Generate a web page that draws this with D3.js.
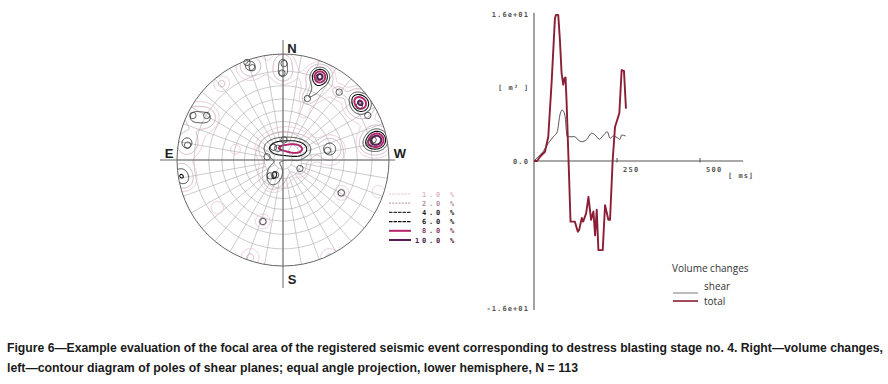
<!DOCTYPE html>
<html><head><meta charset="utf-8">
<script src="https://cdn.jsdelivr.net/npm/d3@7"></script>
<style>body{margin:0;background:#fff}svg{display:block}</style>
</head><body>
<svg id="c" width="888" height="384"></svg>
<script>
// ---------- DATA ----------
// Right panel: volume changes [ms, m3]
const totalTime = [0,9,20,33,43,53,63,66,73,78,83,88,92,95,98,106,110,123,132,136,144,148,157,164,172,179,184,189,194,207,214,224,229,237,244,257,264,271,277];
const totalVol  = [0,0,0.54,1.01,2.64,8.5,15.5,15.9,15.9,13.2,9.6,8.3,9.0,9.1,6.6,-2.1,-6.6,-6.6,-7.7,-7.5,-6.2,-6.6,-5.7,-3.9,-6.4,-5.5,-8.1,-5.3,-9.7,-9.7,-4.8,-6.4,-6.4,0.1,3.7,5.2,9.9,9.8,5.7];
const shearTime = [0,12,27,43,58,70,78,85,93,100,123,133,144,157,174,184,197,207,221,229,239,250,259,264,276];
const shearVol  = [0,0.44,1.01,1.92,2.64,3.18,5.0,5.55,5.0,2.64,2.64,2.29,2.1,2.29,3.02,2.83,2.36,2.72,3.18,2.47,2.72,2.56,2.36,2.83,2.72];
const xTicks = [250, 500];
const yTickLabels = ["1.6e+01", "0.0", "-1.6e+01"];
const yTickValues = [16, 0, -16];

// Left panel: pole density sources [u: E(-) to W(+), v: S(-) to N(+), weight %, spread]
const densityU = [-0.14,-0.03,0.10,0.20, 0.35,0.30, 0.74,0.68, 0.89,0.80, 0.44, -0.08,-0.10, -0.84,-0.72, -0.91, -0.97,-0.92, 0.0,0.0, -0.31,
                  0.23,0.53,0.16,0.55,-0.19,-0.58,-0.31,0.44,-0.62,0.9,-0.45,0.2,
                  0.03,0.33,0.72,0.86,0.45,-0.08,-0.78,-0.9,-0.95,0.0,-0.31];
const densityV = [0.11,0.12,0.11,0.10, 0.79,0.64, 0.53,0.59, 0.19,0.15, 0.11, -0.12,-0.21, 0.41,0.40, 0.16, -0.14,-0.20, 0.93,0.82, 0.89,
                  0.58,0.64,-0.08,-0.31,-0.58,0.72,-0.92,-0.92,-0.45,-0.3,0.1,0.45,
                  0.10,0.72,0.52,0.18,0.08,-0.15,0.40,0.15,-0.15,0.86,0.88];
const densityW = [3,4,5,4, 9,2.2, 7.5,2.5, 9.5,2.5, 3.5, 3.2,2, 3,3, 3, 3.6,1.5, 2.8,2.8, 3,
                  2.6,2.6,2.6,2.6,2.6,2.3,2.3,2.3,1.6,1.6,1.5,1.4,
                  2.5,2.2,2.2,2.2,2.0,2.0,2.0,1.8,2.0,2.0,2.0];
const densityS = [0.07,0.07,0.07,0.065, 0.06,0.05, 0.065,0.05, 0.065,0.05, 0.06, 0.065,0.05, 0.055,0.055, 0.06, 0.06,0.05, 0.05,0.05, 0.055,
                  0.045,0.045,0.045,0.05,0.05,0.055,0.065,0.065,0.06,0.06,0.05,0.05,
                  0.15,0.11,0.11,0.11,0.1,0.1,0.12,0.1,0.1,0.1,0.1];
// individual poles drawn as open circles
const poleU = [-0.34,-0.29,0.01,-0.01,-0.85,-0.72,-0.90,0.23,0.53,0.34,0.72,0.80,0.85,0.82,0.42,-0.09,-0.05,0.01,-0.15,-0.12,-0.07,0.16,0.55,-0.19];
const poleV = [0.92,0.87,0.91,0.82,0.42,0.42,0.14,0.58,0.64,0.78,0.51,0.42,0.19,0.16,0.09,0.12,0.11,0.19,0.03,-0.15,-0.14,-0.08,-0.31,-0.58];
const levels = [1, 2, 4, 6, 8, 10];
const levelLabels = ["1.0", "2.0", "4.0", "6.0", "8.0", "10.0"];
const levelColors = ["#e3bfd3", "#c8a2b8", "#333333", "#111111", "#b3246c", "#5a1d58"];
const levelWidths = [0.8, 0.8, 0.9, 1.1, 1.9, 2.0];
const legendDash = ["2,1.2", "2,1.2", "3.5,1", "3.5,1", null, null];
const labelColors = ["#e0b8cc", "#b090a8", "#222", "#222", "#8a3a6a", "#4a1a48"];

const captionLines = [
 "Figure 6\u2014Example evaluation of the focal area of the registered seismic event corresponding to destress blasting stage no. 4. Right\u2014volume changes,",
 "left\u2014contour diagram of poles of shear planes; equal angle projection, lower hemisphere, N = 113"
];

// ---------- DRAW ----------
const svg = d3.select("#c");

// ===== Stereonet =====
const cx = 283, cy = 160, R = 106;
const su = d3.scaleLinear().domain([-1, 1]).range([cx - R, cx + R]);
const sv = d3.scaleLinear().domain([-1, 1]).range([cy + R, cy - R]);
const net = svg.append("g");
net.append("clipPath").attr("id", "netclip").append("circle").attr("cx", cx).attr("cy", cy).attr("r", R);

// polar grid (equal angle)
const grid = net.append("g").attr("stroke", "#aaaaaa").attr("stroke-width", 0.6).attr("fill", "none");
d3.range(10, 90, 10).forEach(a => {
  grid.append("circle").attr("cx", cx).attr("cy", cy).attr("r", R * Math.tan(a * Math.PI / 360));
});
d3.range(0, 360, 10).forEach(az => {
  const r0 = (az % 30 === 0) ? R * Math.tan(10 * Math.PI / 360) : R * Math.tan(20 * Math.PI / 360);
  const t = az * Math.PI / 180;
  grid.append("line")
    .attr("x1", cx + r0 * Math.sin(t)).attr("y1", cy - r0 * Math.cos(t))
    .attr("x2", cx + R * Math.sin(t)).attr("y2", cy - R * Math.cos(t));
});

// density field and contours
const pad = 6, gx0 = cx - R - pad, gy0 = cy - R - pad, n = 2 * (R + pad);
const values = new Float64Array(n * n);
for (let j = 0; j < n; j++) {
  for (let i = 0; i < n; i++) {
    const uu = su.invert(gx0 + i + 0.5), vv = sv.invert(gy0 + j + 0.5);
    let s = 0;
    for (let k = 0; k < densityU.length; k++) {
      const du = uu - densityU[k], dv = vv - densityV[k];
      s += densityW[k] * Math.exp(-(du * du + dv * dv) / (2 * densityS[k] * densityS[k]));
    }
    values[j * n + i] = s;
  }
}
const contours = d3.contours().size([n, n]).thresholds(levels)(values);
const cpath = d3.geoPath(d3.geoIdentity().translate([gx0, gy0]));
const cg = net.append("g").attr("clip-path", "url(#netclip)").attr("fill", "none");
contours.forEach((c) => {
  const li = levels.indexOf(c.value);
  cg.append("path").attr("d", cpath(c))
    .attr("stroke", levelColors[li]).attr("stroke-width", levelWidths[li])
    .attr("stroke-linejoin", "round");
});

// pole circles
net.append("g").selectAll("circle").data(poleU).join("circle")
  .attr("cx", (d) => su(d)).attr("cy", (d, i) => sv(poleV[i])).attr("r", 3.2)
  .attr("fill", "none").attr("stroke", "#333").attr("stroke-width", 0.8);

// primitive circle
net.append("circle").attr("cx", cx).attr("cy", cy).attr("r", R)
  .attr("fill", "none").attr("stroke", "#666").attr("stroke-width", 1);
// axes N-S / E-W
net.append("line").attr("x1", cx).attr("x2", cx).attr("y1", 40).attr("y2", 288).attr("stroke", "#666").attr("stroke-width", 1);
net.append("line").attr("x1", 160).attr("x2", 395).attr("y1", cy).attr("y2", cy).attr("stroke", "#666").attr("stroke-width", 1);
const dirFont = "bold 13px 'Liberation Sans', Arial, sans-serif";
[["N", 292, 53], ["S", 292, 284], ["E", 169, 158], ["W", 400, 158]].forEach(([t, x, y]) => {
  net.append("text").attr("x", x).attr("y", y).attr("text-anchor", "middle")
    .style("font", dirFont).attr("fill", "#222").text(t);
});

// contour legend
const lg = svg.append("g");
levels.forEach((lv, i) => {
  const y = 194 + i * 9.2;
  lg.append("line").attr("x1", 389).attr("x2", 411).attr("y1", y).attr("y2", y)
    .attr("stroke", levelColors[i]).attr("stroke-width", i < 4 ? 1.2 : 2)
    .attr("stroke-dasharray", legendDash[i]);
  lg.append("text").attr("x", 443).attr("y", y + 2.5).attr("text-anchor", "end")
    .style("font", "bold 7px 'DejaVu Sans Mono', monospace").style("letter-spacing", "2.8px")
    .attr("fill", labelColors[i]).text(levelLabels[i]);
  lg.append("text").attr("x", 450).attr("y", y + 2.5)
    .style("font", "bold 7px 'DejaVu Sans Mono', monospace")
    .attr("fill", labelColors[i]).text("%");
});

// ===== Volume change chart =====
const x = d3.scaleLinear().domain([0, 250]).range([534, 617]);
const y = d3.scaleLinear().domain([-16, 16]).range([308, 14]);
const ch = svg.append("g");
ch.append("line").attr("x1", x(0)).attr("x2", x(0)).attr("y1", y(16) - 1).attr("y2", y(-16) + 2)
  .attr("stroke", "#555").attr("stroke-width", 1.1);
ch.append("line").attr("x1", x(0)).attr("x2", x(630)).attr("y1", y(0)).attr("y2", y(0))
  .attr("stroke", "#555").attr("stroke-width", 1.1);
const tickFont = "bold 7px 'DejaVu Sans Mono', monospace";
xTicks.forEach(t => {
  ch.append("line").attr("x1", x(t)).attr("x2", x(t)).attr("y1", y(0) - 3).attr("y2", y(0) + 1.5)
    .attr("stroke", "#555").attr("stroke-width", 1);
  ch.append("text").attr("x", x(t) + 6).attr("y", y(0) + 10.5)
    .style("font", tickFont).style("letter-spacing", "1.3px").attr("fill", "#555").text(String(t));
});
yTickValues.forEach((v, i) => {
  ch.append("text").attr("x", 529).attr("y", y(v) + 3).attr("text-anchor", "end")
    .style("font", tickFont).style("letter-spacing", "1.1px").attr("fill", "#555").text(yTickLabels[i]);
});
ch.append("text").attr("x", 498).attr("y", 90).style("font", tickFont).style("letter-spacing", "1px")
  .attr("fill", "#555").text("[ m\u00B3 ]");
ch.append("text").attr("x", 728).attr("y", 178).style("font", tickFont).style("letter-spacing", "1px")
  .attr("fill", "#555").text("[ ms]");

const shearLine = d3.line().x((d, i) => x(shearTime[i])).y(d => y(d)).curve(d3.curveMonotoneX);
const totalLine = d3.line().x((d, i) => x(totalTime[i])).y(d => y(d));
ch.append("path").attr("d", shearLine(shearVol)).attr("fill", "none").attr("stroke", "#444").attr("stroke-width", 0.9);
ch.append("path").attr("d", totalLine(totalVol)).attr("fill", "none").attr("stroke", "#8a1e34")
  .attr("stroke-width", 1.9).attr("stroke-linejoin", "round");

// legend
const lf = "10px 'Open Sans', 'Noto Sans', sans-serif";
ch.append("text").attr("x", 672).attr("y", 272).style("font", lf).attr("fill", "#333").text("Volume changes");
ch.append("line").attr("x1", 673).attr("x2", 698).attr("y1", 293).attr("y2", 293).attr("stroke", "#555").attr("stroke-width", 0.8);
ch.append("text").attr("x", 704).attr("y", 290).style("font", lf).attr("fill", "#333").text("shear");
ch.append("line").attr("x1", 673).attr("x2", 698).attr("y1", 301).attr("y2", 301).attr("stroke", "#8a1e34").attr("stroke-width", 1.6);
ch.append("text").attr("x", 704).attr("y", 305).style("font", lf).attr("fill", "#333").text("total");

// caption
const capFont = "bold 12px 'Liberation Sans Narrow', 'Arial Narrow', 'Liberation Sans', sans-serif";
const capW = [876, 571];
captionLines.forEach((t, i) => {
  svg.append("text").attr("x", 7).attr("y", 352 + i * 20).style("font", capFont).attr("fill", "#1a1a1a")
    .attr("textLength", capW[i]).attr("lengthAdjust", "spacingAndGlyphs").text(t);
});
</script>
</body></html>
